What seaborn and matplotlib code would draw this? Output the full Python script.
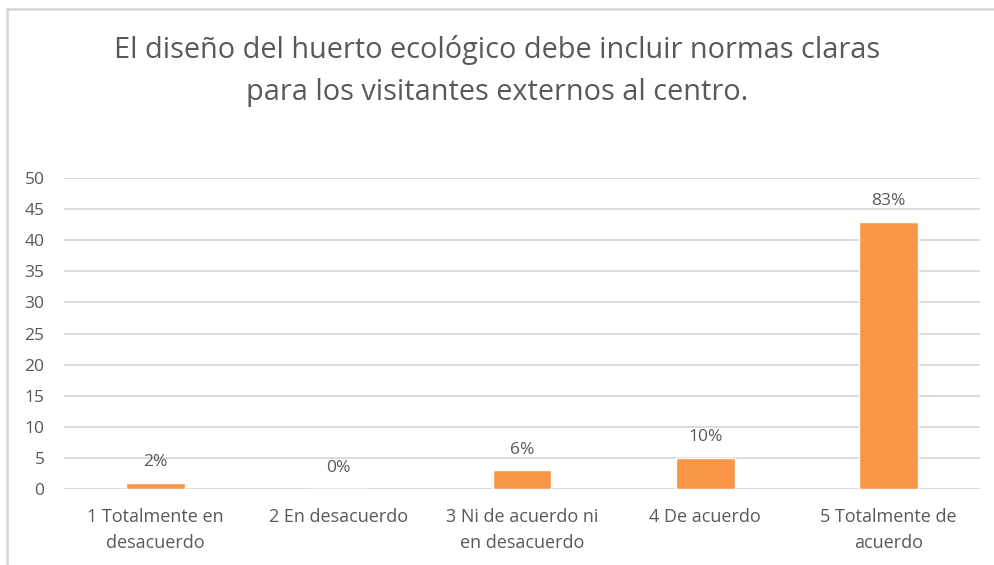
import matplotlib
matplotlib.use("Agg")
import matplotlib.pyplot as plt
import seaborn as sns
import pandas as pd
from matplotlib.patches import Rectangle

categories = ["1 Totalmente en\ndesacuerdo", "2 En desacuerdo", "3 Ni de acuerdo ni\nen desacuerdo",
              "4 De acuerdo", "5 Totalmente de\nacuerdo"]
values = [1, 0, 3, 5, 43]
labels = ["2%", "0%", "6%", "10%", "83%"]
yticks = [0, 5, 10, 15, 20, 25, 30, 35, 40, 45, 50]
title = "El diseño del huerto ecológico debe incluir normas claras\npara los visitantes externos al centro."

sns.set_theme(style="white")
plt.rcParams['font.family'] = ['Open Sans', 'DejaVu Sans']

df = pd.DataFrame({"cat": categories, "val": values})
fig = plt.figure(figsize=(9.94, 5.65), dpi=100)
ax = fig.add_axes([64/994, 1-489/565, (980-64)/994, (489-178)/565])
sns.barplot(data=df, x="cat", y="val", color="#F79646", saturation=1, width=0.32, ax=ax, zorder=3)
ax.set_ylim(0, 50)
ax.set_yticks(yticks)
ax.yaxis.grid(True, color="#D9D9D9", linewidth=1.3, zorder=0)
ax.set_axisbelow(True)
for s in ax.spines.values():
    s.set_visible(False)
ax.tick_params(axis="both", length=0, colors="#595959", labelsize=12.5)
ax.tick_params(axis="y", pad=14)
ax.tick_params(axis="x", pad=14, labelsize=13)
ax.set_xlabel("")
ax.set_ylabel("")
for lbl in ax.get_xticklabels():
    lbl.set_linespacing(1.55)
for i, (v, t) in enumerate(zip(values, labels)):
    ax.annotate(t, (i, v), xytext=(0, 9), textcoords="offset points", ha="center", va="bottom",
                fontsize=12.5, color="#595959")
fig.text(0.5, 1-71/565, title, ha="center", va="center", fontsize=20.8, color="#595959", linespacing=1.55)
fig.patches.append(Rectangle((7/994, -0.1), 1.2, 1.1-9/565, transform=fig.transFigure,
                             fill=False, edgecolor="#D9D9D9", linewidth=2))
fig.savefig("out.png", dpi=100)
